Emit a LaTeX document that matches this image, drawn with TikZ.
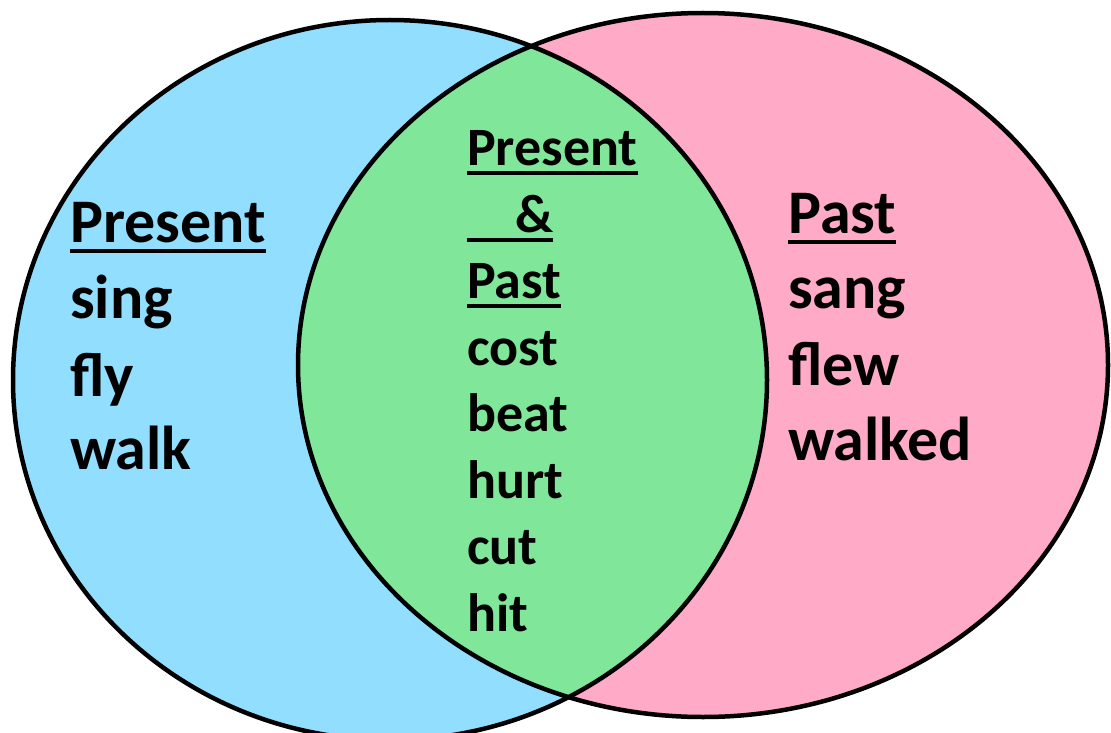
\documentclass[tikz,border=0pt]{standalone}
\usepackage{fontspec}
\setmainfont{Carlito}
\usetikzlibrary{calc}
\definecolor{presentblue}{RGB}{146,222,255}
\definecolor{pastpink}{RGB}{255,170,199}
\definecolor{bothgreen}{RGB}{128,230,154}
\begin{document}
\begin{tikzpicture}[x=1pt,y=-1pt,
  word/.style={anchor=base west,inner sep=0pt,font=\fontsize{62}{75}\selectfont\bfseries},
  midword/.style={anchor=base west,inner sep=0pt,font=\fontsize{54}{66}\selectfont\bfseries},
  rim/.style={line width=4.5pt,draw=black},
  uline/.style={line width=4pt}]
\useasboundingbox (0,0) rectangle (1111,733);
% circle fills
\fill[presentblue] (390,380) ellipse [x radius=377pt, y radius=360pt];
\fill[pastpink] (703,365) ellipse [x radius=405pt, y radius=352pt];
\begin{scope}
  \clip (390,380) ellipse [x radius=377pt, y radius=360pt];
  \fill[bothgreen] (703,365) ellipse [x radius=405pt, y radius=352pt];
\end{scope}
% outlines
\draw[rim] (390,380) ellipse [x radius=377pt, y radius=360pt];
\draw[rim] (703,365) ellipse [x radius=405pt, y radius=352pt];

% present-only words
\node[word] (lhead) at (70,242) {Present};
\node[word] (l1) at (70,318) {sing};
\node[word] (l2) at (70,396) {fly};
\node[word] (l3) at (70,469) {walk};
\draw[uline] ($(lhead.base west)+(0,9)$) -- ($(lhead.base east)+(0,9)$);

% past-only words
\node[word] (rhead) at (788,233) {Past};
\node[word] (r1) at (788,308) {sang};
\node[word] (r2) at (788,385) {flew};
\node[word] (r3) at (788,460) {walked};
\draw[uline] ($(rhead.base west)+(0,9)$) -- ($(rhead.base east)+(0,9)$);

% shared words
\node[midword] (mhead1) at (467,165) {Present};
\node[midword] (mhead2) at (467,232) {\hspace*{48pt}\&};
\node[midword] (mhead3) at (467,298) {Past};
\node[midword] (m1) at (467,365) {cost};
\node[midword] (m2) at (467,431) {beat};
\node[midword] (m3) at (467,498) {hurt};
\node[midword] (m4) at (467,564) {cut};
\node[midword] (m5) at (467,631) {hit};
\draw[uline] ($(mhead1.base west)+(0,8)$) -- ($(mhead1.base east)+(0,8)$);
\draw[uline] ($(mhead2.base west)+(0,8)$) -- ($(mhead2.base east)+(0,8)$);
\draw[uline] ($(mhead3.base west)+(0,8)$) -- ($(mhead3.base east)+(0,8)$);
\end{tikzpicture}
\end{document}
